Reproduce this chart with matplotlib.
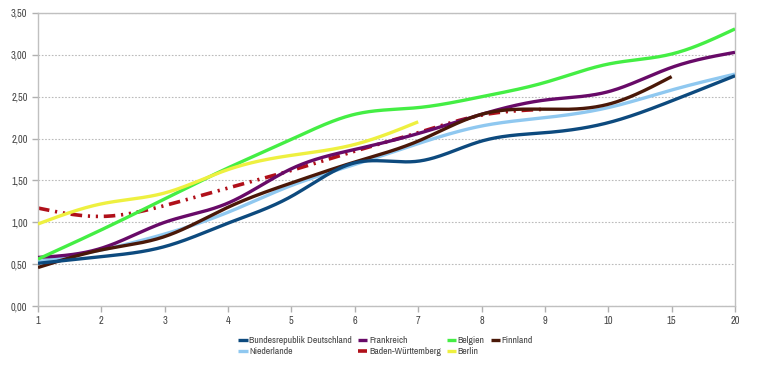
import numpy as np
import matplotlib
matplotlib.use("Agg")
import matplotlib.pyplot as plt
from matplotlib import font_manager

categories = ["1", "2", "3", "4", "5", "6", "7", "8", "9", "10", "15", "20"]

brd = [0.51, 0.59, 0.71, 0.99, 1.31, 1.71, 1.73, 1.97, 2.07, 2.19, 2.45, 2.75]
frankreich = [0.58, 0.69, 1.00, 1.23, 1.64, 1.87, 2.06, 2.29, 2.46, 2.56, 2.85, 3.03]
belgien = [0.56, 0.91, 1.28, 1.65, 1.99, 2.29, 2.37, 2.50, 2.67, 2.89, 3.01, 3.31]
finnland = [0.46, 0.67, 0.83, 1.18, 1.47, 1.72, 1.97, 2.29, 2.35, 2.41, 2.74]
niederlande = [0.53, 0.67, 0.86, 1.12, 1.44, 1.69, 1.94, 2.15, 2.25, 2.37, 2.58, 2.77]
bw = [1.17, 1.07, 1.20, 1.41, 1.62, 1.85, 2.07, 2.28, 2.35]
berlin = [0.98, 1.22, 1.35, 1.63, 1.80, 1.93, 2.20]

yticks = [0.0, 0.5, 1.0, 1.5, 2.0, 2.5, 3.0, 3.5]
ytick_labels = ["0,00", "0,50", "1,00", "1,50", "2,00", "2,50", "3,00", "3,50"]

names = {f.name for f in font_manager.fontManager.ttflist}
fam = "Liberation Sans"
for cand in ["Liberation Sans Narrow", "Arial Narrow", "Archivo Narrow",
             "Roboto Condensed", "Asap Condensed"]:
    if cand in names:
        fam = cand
        break
plt.rcParams["font.family"] = [fam, "DejaVu Sans"]


def spline(y, n=40):
    y = np.asarray(y, float)
    x = np.arange(len(y), dtype=float)
    m = len(y)
    A = np.zeros((m, m))
    r = np.zeros(m)
    A[0, 0] = A[-1, -1] = 1
    for i in range(1, m - 1):
        A[i, i - 1], A[i, i], A[i, i + 1] = 1, 4, 1
        r[i] = 6 * (y[i + 1] - 2 * y[i] + y[i - 1])
    M = np.linalg.solve(A, r)
    xs, ys = [], []
    for i in range(m - 1):
        t = np.linspace(0, 1, n, endpoint=(i == m - 2))
        yy = ((1 - t) * y[i] + t * y[i + 1]
              + ((1 - t) ** 3 - (1 - t)) * M[i] / 6 + (t ** 3 - t) * M[i + 1] / 6)
        xs.append(x[i] + t)
        ys.append(yy)
    return np.concatenate(xs), np.concatenate(ys)


fig = plt.figure(figsize=(7.7, 3.76), dpi=100)
ax = fig.add_axes([38 / 770, 70 / 376, (735 - 38) / 770, (306 - 13) / 376])

series = [
    ("Bundesrepublik Deutschland", brd, "#0d4a7e", "-", 4),
    ("Niederlande", niederlande, "#8fc8f0", "-", 3),
    ("Frankreich", frankreich, "#680a68", "-", 3),
    ("Baden-Württemberg", bw, "#b0101a", "dashdot", 2),
    ("Belgien", belgien, "#44ee44", "-", 3),
    ("Berlin", berlin, "#eef040", "-", 3),
    ("Finnland", finnland, "#4a1808", "-", 3),
]
handles = []
for name, vals, col, ls, z in series:
    xs, ys = spline(vals)
    if ls == "dashdot":
        ln, = ax.plot(xs, ys, color=col, lw=2.6, zorder=z, label=name,
                      dashes=(3.2, 1.6, 0.6, 1.6, 0.6, 1.6))
    else:
        ln, = ax.plot(xs, ys, color=col, lw=2.4, zorder=z, label=name,
                      solid_capstyle="butt")
    handles.append(ln)

ax.set_xlim(0, len(categories) - 1)
ax.set_ylim(0, 3.5)
ax.set_xticks(range(len(categories)))
ax.set_xticklabels(categories)
ax.set_yticks(yticks)
ax.set_yticklabels(ytick_labels)
ax.yaxis.grid(True, color="#bbbbbb", linestyle=(0, (1.5, 1.5)), lw=0.8)
ax.set_axisbelow(True)
for s in ax.spines.values():
    s.set_color("#c0c0c0")
    s.set_linewidth(1)
ax.tick_params(axis="both", colors="#b0b0b0", labelcolor="#444444",
               labelsize=7.5, length=4, width=1)
ax.tick_params(axis="x", pad=3)

leg = fig.legend(handles=handles, loc="upper left", bbox_to_anchor=(238 / 770, 1 - 336 / 376),
                 ncol=4, frameon=False, fontsize=7, handlelength=1.0,
                 handletextpad=0.15, columnspacing=0.6, labelspacing=0.2,
                 borderaxespad=0, borderpad=0)
for t in leg.get_texts():
    t.set_color("#444444")

fig.savefig("out.png", dpi=100, facecolor="white")
